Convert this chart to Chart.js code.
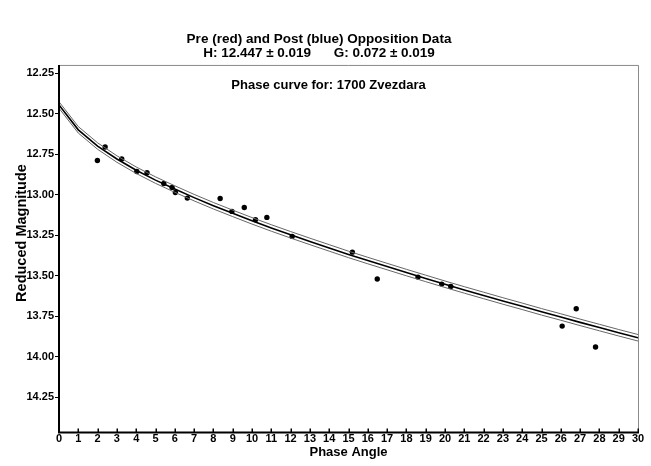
<!DOCTYPE html>
<html>
<head>
<meta charset="utf-8">
<script src="https://cdn.jsdelivr.net/npm/chart.js@4.4.1/dist/chart.umd.min.js"></script>
<style>
  html, body { margin: 0; padding: 0; background: #fff; }
  #wrap { width: 651px; height: 466px; }
</style>
</head>
<body>
<div id="wrap"><canvas id="chart"></canvas></div>
<script>
// observed points: phase angle (deg) and reduced magnitude
const obsAngle = [1.99, 2.39, 3.25, 4.03, 4.56, 5.43, 5.86, 6.03, 6.65, 8.35, 8.96, 9.60,
  10.18, 10.77, 12.08, 15.20, 16.49, 18.60, 19.83, 20.30, 26.07, 26.80, 27.80];
const obsMag = [12.789, 12.706, 12.780, 12.857, 12.865, 12.931, 12.955, 12.986, 13.021, 13.023, 13.103, 13.079,
  13.154, 13.140, 13.257, 13.354, 13.520, 13.508, 13.551, 13.566, 13.810, 13.703, 13.939];

// fitted phase curve (one value per degree)
const curveAngle = [0, 1, 2, 3, 4, 5, 6, 7, 8, 9, 10, 11, 12, 13, 14, 15,
  16, 17, 18, 19, 20, 21, 22, 23, 24, 25, 26, 27, 28, 29, 30];
const curveMag = [12.447, 12.600, 12.700, 12.780, 12.849, 12.910, 12.965, 13.018, 13.068, 13.115,
  13.161, 13.205, 13.247, 13.288, 13.328, 13.368, 13.406, 13.443, 13.480, 13.516, 13.552,
  13.587, 13.621, 13.655, 13.688, 13.722, 13.754, 13.787, 13.819, 13.851, 13.882];
const curveUpper = [12.427, 12.580, 12.680, 12.760, 12.829, 12.890, 12.945, 12.998, 13.048, 13.095,
  13.141, 13.185, 13.227, 13.268, 13.308, 13.348, 13.386, 13.423, 13.460, 13.496, 13.532,
  13.567, 13.601, 13.635, 13.668, 13.702, 13.734, 13.767, 13.799, 13.831, 13.862];
const curveLower = [12.467, 12.620, 12.720, 12.800, 12.869, 12.930, 12.985, 13.038, 13.088, 13.135,
  13.181, 13.225, 13.267, 13.308, 13.348, 13.388, 13.426, 13.463, 13.500, 13.536, 13.572,
  13.607, 13.641, 13.675, 13.708, 13.742, 13.774, 13.807, 13.839, 13.871, 13.902];

const yTickValues = [12.25, 12.50, 12.75, 13.00, 13.25, 13.50, 13.75, 14.00, 14.25];

const titleLines = ['Pre (red) and Post (blue) Opposition Data', 'H: 12.447 \u00b1 0.019      G: 0.072 \u00b1 0.019'];
const innerTitle = 'Phase curve for: 1700 Zvezdara';
const yTitle = 'Reduced Magnitude';
const xTitle = 'Phase Angle';

const FONT = "'Liberation Sans', Arial, sans-serif";

const pts = (xs, ys) => xs.map((x, i) => ({x: x, y: ys[i]}));

// frame, inward x ticks, extra labels
const extras = {
  id: 'extras',
  afterDraw(chart) {
    const ctx = chart.ctx;
    const a = chart.chartArea;
    const xs = chart.scales.x;
    ctx.save();
    ctx.strokeStyle = '#8a8a8a';
    ctx.lineWidth = 1;
    ctx.beginPath();
    ctx.moveTo(a.left, a.top + 0.5);
    ctx.lineTo(a.right + 0.5, a.top + 0.5);
    ctx.lineTo(a.right + 0.5, a.bottom);
    ctx.stroke();

    ctx.strokeStyle = '#000';
    ctx.lineWidth = 1.5;
    ctx.beginPath();
    xs.ticks.forEach(t => {
      const px = Math.round(xs.getPixelForValue(t.value)) + 0.25;
      ctx.moveTo(px, a.bottom);
      ctx.lineTo(px, a.bottom - 4);
    });
    ctx.stroke();

    ctx.lineWidth = 2;
    ctx.beginPath();
    ctx.moveTo(a.left, a.top);
    ctx.lineTo(a.left, a.bottom);
    ctx.lineTo(a.right + 1, a.bottom);
    ctx.stroke();

    ctx.fillStyle = '#000';
    ctx.textAlign = 'center';
    ctx.textBaseline = 'middle';
    ctx.font = 'bold 13px ' + FONT;
    ctx.fillText(innerTitle, chart.width / 2 + 3, a.top + 20);

    ctx.font = 'bold 14.5px ' + FONT;
    ctx.translate(22, chart.height / 2);
    ctx.rotate(-Math.PI / 2);
    ctx.fillText(yTitle, 0, 0);
    ctx.restore();
  }
};

new Chart(document.getElementById('chart'), {
  type: 'scatter',
  data: {
    datasets: [
      {
        type: 'line',
        data: pts(curveAngle, curveUpper),
        borderColor: '#666',
        borderWidth: 1,
        pointRadius: 0,
        tension: 0,
        fill: false
      },
      {
        type: 'line',
        data: pts(curveAngle, curveLower),
        borderColor: '#666',
        borderWidth: 1,
        pointRadius: 0,
        tension: 0,
        fill: false
      },
      {
        type: 'line',
        data: pts(curveAngle, curveMag),
        borderColor: '#000',
        borderWidth: 1.6,
        pointRadius: 0,
        tension: 0,
        fill: false
      },
      {
        data: pts(obsAngle, obsMag),
        backgroundColor: '#000',
        borderColor: '#000',
        pointRadius: 2.7,
        pointBorderWidth: 0
      }
    ]
  },
  options: {
    responsive: true,
    maintainAspectRatio: false,
    animation: false,
    layout: { padding: { left: 0, right: 13, top: 0, bottom: 0 } },
    plugins: {
      legend: { display: false },
      tooltip: { enabled: false },
      title: {
        display: true,
        text: titleLines,
        color: '#000',
        font: { family: FONT, size: 13.5, weight: 'bold', lineHeight: 1.05 },
        padding: { top: 32, bottom: 4.6 }
      }
    },
    scales: {
      x: {
        type: 'linear',
        min: 0,
        max: 30,
        border: { display: false },
        grid: { display: false, drawTicks: false },
        ticks: { stepSize: 1, color: '#000', padding: 0, maxRotation: 0, autoSkip: false,
          font: { family: FONT, size: 11, weight: 'bold' } },
        title: { display: true, text: xTitle, color: '#000', padding: { top: 0, bottom: 6 },
          font: { family: FONT, size: 13, weight: 'bold' } },
        afterFit(scale) { scale.height = 33.5; }
      },
      y: {
        type: 'linear',
        reverse: true,
        min: 12.2,
        max: 14.466,
        border: { display: false },
        grid: { drawOnChartArea: false, color: '#000', tickLength: 4, tickWidth: 1 },
        ticks: { color: '#000', padding: 1,
          font: { family: FONT, size: 11, weight: 'bold' },
          callback: v => v.toFixed(2) },
        afterBuildTicks(scale) { scale.ticks = yTickValues.map(v => ({value: v})); },
        afterFit(scale) { scale.width = 59; }
      }
    }
  },
  plugins: [extras]
});
</script>
</body>
</html>
